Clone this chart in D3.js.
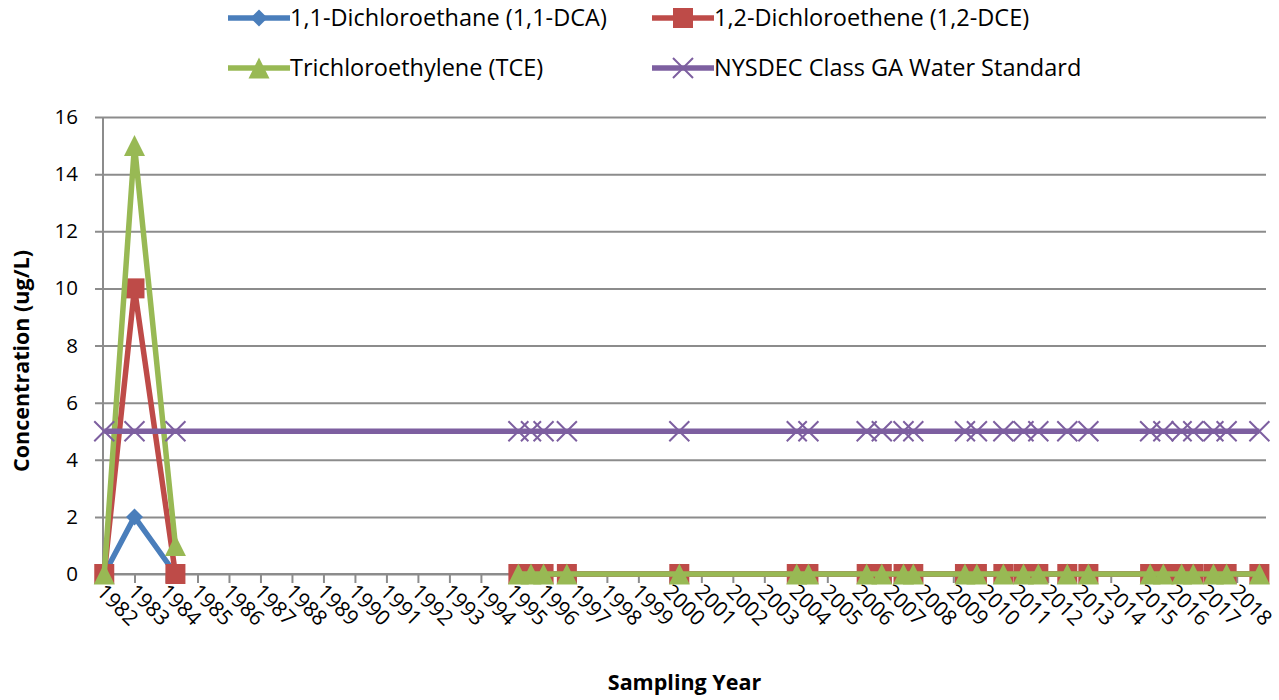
<!DOCTYPE html>
<html>
<head>
<meta charset="utf-8">
<script src="https://cdn.jsdelivr.net/npm/d3@7"></script>
<style>
  html, body { margin: 0; padding: 0; background: #ffffff; }
  svg { display: block; }
  text { font-family: "Open Sans", "Noto Sans", sans-serif; fill: #000; }
</style>
</head>
<body>
<script>
// ---- Data (decimal sampling dates; null = break in the contaminant lines) ----
const sampleDates = [1982.04, 1983.0, 1984.3, 1990.0,
  1995.19, 1995.59, 1995.99, 1996.73, 2000.30, 2004.03, 2004.40, 2006.25, 2006.73,
  2007.42, 2007.73, 2009.37, 2009.75, 2010.59, 2011.23, 2011.70, 2012.62, 2013.29,
  2015.25, 2015.67, 2016.25, 2016.62, 2017.26, 2017.68, 2018.72];
const dca = [0, 2, 0, null, 0, 0, 0, 0, 0, 0, 0, 0, 0, 0, 0, 0, 0, 0, 0, 0, 0, 0, 0, 0, 0, 0, 0, 0, 0];
const dce = [0, 10, 0, null, 0, 0, 0, 0, 0, 0, 0, 0, 0, 0, 0, 0, 0, 0, 0, 0, 0, 0, 0, 0, 0, 0, 0, 0, 0];
const tce = [0, 15, 1, null, 0, 0, 0, 0, 0, 0, 0, 0, 0, 0, 0, 0, 0, 0, 0, 0, 0, 0, 0, 0, 0, 0, 0, 0, 0];
const standard = [5, 5, 5, null, 5, 5, 5, 5, 5, 5, 5, 5, 5, 5, 5, 5, 5, 5, 5, 5, 5, 5, 5, 5, 5, 5, 5, 5, 5];
const seriesNames = ["1,1-Dichloroethane (1,1-DCA)", "1,2-Dichloroethene (1,2-DCE)",
  "Trichloroethylene (TCE)", "NYSDEC Class GA Water Standard"];
const yearTicks = [1982, 1983, 1984, 1985, 1986, 1987, 1988, 1989, 1990, 1991, 1992, 1993,
  1994, 1995, 1996, 1997, 1998, 1999, 2000, 2001, 2002, 2003, 2004, 2005, 2006, 2007,
  2008, 2009, 2010, 2011, 2012, 2013, 2014, 2015, 2016, 2017, 2018];
const yearLabels = ["1982", "1983", "1984", "1985", "1986", "1987", "1988", "1989", "1990",
  "1991", "1992", "1993", "1994", "1995", "1996", "1997", "1998", "1999", "2000", "2001",
  "2002", "2003", "2004", "2005", "2006", "2007", "2008", "2009", "2010", "2011", "2012",
  "2013", "2014", "2015", "2016", "2017", "2018"];
const yTicks = [0, 2, 4, 6, 8, 10, 12, 14, 16];
const xTitle = "Sampling Year";
const yTitle = "Concentration (ug/L)";

// ---- Layout ----
const W = 1279, H = 700;
const plot = { left: 103, right: 1266, top: 117, bottom: 574 };
const xDomain = [1982, 2018.93];
const colors = ["#4A7EBB", "#BE4B48", "#98B954", "#7D5FA0"];
const gridColor = "#8C8C8C";

const svg = d3.select("body").append("svg").attr("width", W).attr("height", H);
svg.append("rect").attr("width", W).attr("height", H).attr("fill", "#fff");

const x = d3.scaleLinear().domain(xDomain).range([plot.left, plot.right]);
const y = d3.scaleLinear().domain([0, 16]).range([plot.bottom, plot.top]);

// Gridlines + y axis
const yAxis = d3.axisLeft(y).tickValues(yTicks).tickSize(-(plot.right - plot.left)).tickPadding(25)
  .tickSizeOuter(0);
const gy = svg.append("g").attr("transform", `translate(${plot.left},0)`).call(yAxis);
gy.select(".domain").remove();
gy.selectAll(".tick line").attr("stroke", gridColor).attr("stroke-width", 2).attr("x1", -8);
gy.selectAll(".tick text").attr("font-size", 20.5).attr("font-family", "Open Sans");

// y axis line
svg.append("line").attr("x1", plot.left).attr("x2", plot.left)
  .attr("y1", plot.top).attr("y2", plot.bottom + 1)
  .attr("stroke", gridColor).attr("stroke-width", 2);

// x axis
const xAxis = d3.axisBottom(x).tickValues(yearTicks).tickSize(9).tickSizeOuter(0)
  .tickFormat((d, i) => yearLabels[i]);
const gx = svg.append("g").attr("transform", `translate(0,${plot.bottom})`).call(xAxis);
gx.select(".domain").attr("stroke", gridColor).attr("stroke-width", 2)
  .attr("d", `M${plot.left},0H${plot.right}`);
gx.selectAll(".tick line").attr("stroke", gridColor).attr("stroke-width", 2);
gx.selectAll(".tick text")
  .attr("font-size", 21).attr("font-family", "Open Sans")
  .attr("text-anchor", "start")
  .attr("x", 0).attr("y", 0).attr("dy", 0)
  .attr("transform", "translate(-8,19) rotate(45)");

// Axis titles
svg.append("text").attr("x", (plot.left + plot.right) / 2).attr("y", 690)
  .attr("text-anchor", "middle").attr("font-size", 21.5).attr("font-weight", "bold").text(xTitle);
svg.append("text").attr("transform", "translate(29,361) rotate(-90)")
  .attr("text-anchor", "middle").attr("font-size", 21.5).attr("font-weight", "bold").text(yTitle);

// ---- Markers ----
function marker(sel, type, color, s) {
  if (type === "diamond") {
    sel.append("path").attr("d", `M0,${-s}L${s},0L0,${s}L${-s},0Z`).attr("fill", color);
  } else if (type === "square") {
    sel.append("rect").attr("x", -s).attr("y", -s).attr("width", 2 * s).attr("height", 2 * s).attr("fill", color);
  } else if (type === "triangle") {
    sel.append("path").attr("d", `M0,${-s}L${s},${s}L${-s},${s}Z`).attr("fill", color);
  } else if (type === "x") {
    sel.append("path").attr("d", `M${-s},${-s}L${s},${s}M${-s},${s}L${s},${-s}`)
      .attr("stroke", color).attr("stroke-width", 2).attr("fill", "none");
  }
}
const seriesDefs = [
  { vals: dca, type: "diamond", size: 8.5, connectGaps: false },
  { vals: dce, type: "square", size: 10, connectGaps: false },
  { vals: tce, type: "triangle", size: 10.5, connectGaps: false },
  { vals: standard, type: "x", size: 10, connectGaps: true }
];

seriesDefs.forEach((s, i) => {
  const pts = sampleDates.map((d, j) => ({ d, v: s.vals[j] }));
  const data = s.connectGaps ? pts.filter(p => p.v !== null) : pts;
  const line = d3.line().defined(p => p.v !== null).x(p => x(p.d)).y(p => y(p.v));
  const g = svg.append("g");
  g.append("path").datum(data).attr("d", line).attr("fill", "none")
    .attr("stroke", colors[i]).attr("stroke-width", 5.5).attr("stroke-linejoin", "round");
  g.selectAll("g.m").data(pts.filter(p => p.v !== null)).join("g").attr("class", "m")
    .attr("transform", p => `translate(${x(p.d)},${y(p.v)})`)
    .each(function () { marker(d3.select(this), s.type, colors[i], s.size); });
});

// ---- Legend ----
const legendPos = [[228, 18], [652, 18], [228, 68], [652, 68]];
seriesDefs.forEach((s, i) => {
  const [lx, ly] = legendPos[i];
  const g = svg.append("g").attr("transform", `translate(${lx},${ly})`);
  g.append("line").attr("x1", 0).attr("x2", 62).attr("y1", 0).attr("y2", 0)
    .attr("stroke", colors[i]).attr("stroke-width", 5.5);
  const m = g.append("g").attr("transform", "translate(31,0)");
  marker(m, s.type, colors[i], s.size);
  g.append("text").attr("x", 62).attr("y", 8).attr("font-size", 23.5).text(seriesNames[i]);
});
</script>
</body>
</html>
